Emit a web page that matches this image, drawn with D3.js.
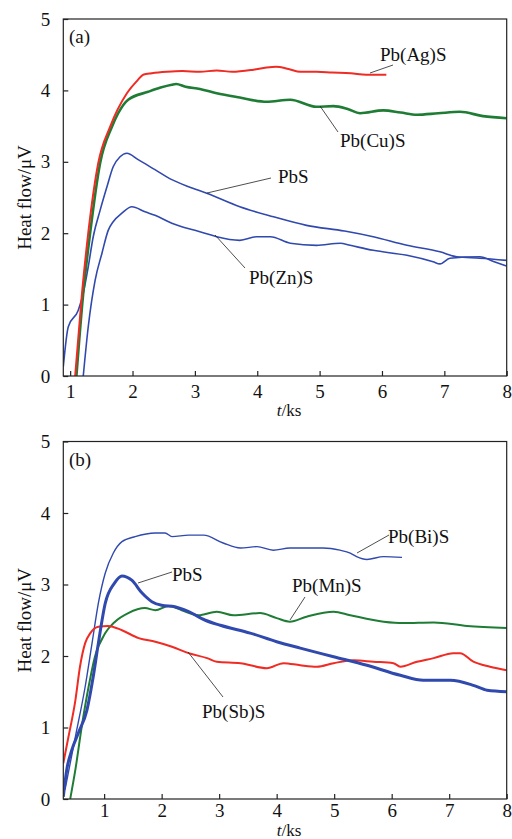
<!DOCTYPE html>
<html>
<head>
<meta charset="utf-8">
<script src="https://cdn.jsdelivr.net/npm/d3@7"></script>
<style>
  body { margin: 0; background: #fff; }
  svg text { font-family: "Liberation Serif", "Times New Roman", serif; fill: #111; }
</style>
</head>
<body>
<div id="chart"></div>
<script>
// ---- data: [t (ks), heat flow (uV)] ----
var yTicks = [0, 1, 2, 3, 4, 5];
var xTicks = [1, 2, 3, 4, 5, 6, 7, 8];

// panel (a)
var agA = [[1.08,0],[1.19,1.16],[1.29,2.0],[1.45,2.98],[1.64,3.49],[1.91,3.96],[2.09,4.15],[2.17,4.22],[2.31,4.24],
  [2.55,4.26],[2.8,4.27],[3.08,4.26],[3.35,4.28],[3.6,4.26],[3.94,4.29],[4.15,4.32],[4.3,4.33],[4.5,4.3],
  [4.69,4.26],[4.95,4.26],[5.2,4.25],[5.5,4.24],[5.75,4.22],[6.07,4.22]];
var cuA = [[1.1,0],[1.21,1.16],[1.32,2.0],[1.48,2.98],[1.67,3.49],[1.77,3.68],[1.93,3.87],[2.25,3.98],[2.45,4.04],
  [2.63,4.08],[2.7,4.09],[2.85,4.05],[3.08,4.02],[3.35,3.96],[3.72,3.9],[4.15,3.84],[4.53,3.87],[4.95,3.77],
  [5.22,3.78],[5.45,3.74],[5.65,3.68],[6.02,3.72],[6.3,3.69],[6.56,3.66],[6.9,3.68],[7.25,3.7],[7.62,3.64],[8,3.61]];
var pbsA = [[0.89,0.13],[0.97,0.69],[1.13,0.92],[1.21,1.16],[1.29,1.53],[1.37,1.95],[1.48,2.32],[1.59,2.65],
  [1.69,2.93],[1.8,3.07],[1.91,3.12],[2.09,3.03],[2.36,2.89],[2.63,2.75],[2.9,2.65],[3.19,2.56],[3.72,2.37],
  [4.26,2.23],[4.79,2.11],[5.4,2.03],[5.86,1.95],[6.4,1.83],[6.93,1.74],[7.2,1.67],[7.57,1.65],[8,1.62]];
var znA = [[1.21,0],[1.29,0.69],[1.4,1.34],[1.51,1.72],[1.61,2.04],[1.69,2.16],[1.83,2.28],[1.99,2.37],[2.2,2.3],
  [2.36,2.25],[2.63,2.14],[2.79,2.09],[3.0,2.04],[3.16,2.0],[3.35,1.95],[3.72,1.9],[3.99,1.95],[4.21,1.95],
  [4.53,1.86],[4.95,1.83],[5.33,1.86],[5.49,1.83],[5.86,1.76],[6.4,1.69],[6.82,1.6],[6.93,1.57],[7.09,1.65],
  [7.57,1.67],[7.8,1.6],[8,1.54]];

// panel (b)
var biB = [[0.32,0.13],[0.5,0.87],[0.67,1.57],[0.79,2.18],[0.9,2.74],[1.02,3.16],[1.16,3.44],[1.31,3.6],[1.54,3.67],
  [1.89,3.72],[2.06,3.72],[2.18,3.67],[2.47,3.69],[2.73,3.69],[3.07,3.58],[3.37,3.51],[3.66,3.53],[3.94,3.48],
  [4.23,3.51],[4.52,3.51],[4.81,3.51],[5.1,3.48],[5.28,3.44],[5.39,3.39],[5.57,3.35],[5.86,3.39],[6.18,3.38]];
var pbsB = [[0.29,0.03],[0.35,0.41],[0.44,0.69],[0.55,0.92],[0.7,1.24],[0.81,1.71],[0.9,2.18],[1.02,2.74],
  [1.18,3.02],[1.31,3.12],[1.48,3.06],[1.66,2.88],[1.83,2.76],[2.0,2.71],[2.23,2.69],[2.47,2.62],[2.76,2.5],
  [3.02,2.43],[3.54,2.32],[4.0,2.2],[4.41,2.11],[4.99,1.99],[5.57,1.87],[6.15,1.73],[6.55,1.66],[7.02,1.66],
  [7.42,1.59],[7.66,1.52],[8,1.5]];
var mnB = [[0.41,0],[0.5,0.41],[0.61,1.01],[0.73,1.57],[0.84,1.99],[1.02,2.32],[1.19,2.48],[1.42,2.6],[1.71,2.67],
  [1.89,2.64],[2.12,2.7],[2.35,2.64],[2.64,2.57],[2.96,2.62],[3.25,2.57],[3.71,2.6],[4.0,2.53],[4.23,2.48],
  [4.52,2.55],[4.99,2.62],[5.28,2.57],[5.86,2.48],[6.2,2.46],[6.73,2.47],[7.31,2.42],[8,2.39]];
var sbB = [[0.29,0.5],[0.38,0.87],[0.5,1.38],[0.58,1.85],[0.67,2.18],[0.76,2.32],[0.9,2.41],[1.07,2.42],
  [1.31,2.36],[1.6,2.25],[1.89,2.2],[2.18,2.13],[2.47,2.04],[2.79,1.97],[2.96,1.92],[3.37,1.9],[3.83,1.83],
  [4.12,1.9],[4.41,1.87],[4.7,1.85],[4.99,1.9],[5.34,1.94],[5.68,1.92],[6.03,1.9],[6.15,1.85],[6.44,1.92],
  [6.73,1.97],[7.07,2.04],[7.19,2.04],[7.42,1.92],[7.71,1.85],[8,1.8]];

var red = "#ef2b24", green = "#1f7c34", blue = "#3049ae";
var serif = "'Liberation Serif', 'Times New Roman', serif";

var width = 512, height = 839;
var svg = d3.select("#chart").append("svg")
            .attr("width", width)
            .attr("height", height)
            .attr("font-family", serif);

var panels = [
  { id: "a", tag: "(a)", top: 19, bottom: 376, xmin: 0.89, titleDy: 40, pad: 9,
    series: [
      { data: znA, color: blue, w: 1.6 },
      { data: pbsA, color: blue, w: 1.6 },
      { data: cuA, color: green, w: 2.6 },
      { data: agA, color: red, w: 2.0 }
    ],
    labels: [
      { text: "Pb(Ag)S", x: 380, y: 61, line: [[370, 73], [393, 65]] },
      { text: "Pb(Cu)S", x: 340, y: 147, line: [[320, 106], [338, 132]] },
      { text: "PbS", x: 278, y: 183, line: [[207, 193], [271, 178]] },
      { text: "Pb(Zn)S", x: 249, y: 284, line: [[215, 235], [245, 268]] }
    ] },
  { id: "b", tag: "(b)", top: 441.5, bottom: 799, xmin: 0.29, titleDy: 37, pad: 5,
    series: [
      { data: biB, color: blue, w: 1.4 },
      { data: mnB, color: green, w: 2.0 },
      { data: sbB, color: red, w: 2.0 },
      { data: pbsB, color: blue, w: 3.0 }
    ],
    labels: [
      { text: "Pb(Bi)S", x: 388, y: 543, line: [[357, 553], [389, 535]] },
      { text: "PbS", x: 172, y: 581, line: [[138, 583], [172, 572]] },
      { text: "Pb(Mn)S", x: 292, y: 592, line: [[305, 597], [290, 620]] },
      { text: "Pb(Sb)S", x: 202, y: 718, line: [[188, 652], [223, 697]] }
    ] }
];

var left = 63.3, right = 506.7;

panels.forEach(function(p) {
  var x = d3.scaleLinear().domain([p.xmin, 8]).range([left, right]);
  var y = d3.scaleLinear().domain([0, 5]).range([p.bottom, p.top]);

  var g = svg.append("g");

  g.append("clipPath").attr("id", "clip-" + p.id)
    .append("rect")
    .attr("x", left).attr("y", p.top)
    .attr("width", right - left).attr("height", p.bottom - p.top);

  var line = d3.line()
               .x(d => x(d[0]))
               .y(d => y(d[1]))
               .curve(d3.curveMonotoneX);

  g.append("g").attr("clip-path", "url(#clip-" + p.id + ")")
    .selectAll("path")
    .data(p.series)
    .enter().append("path")
      .attr("d", d => line(d.data))
      .attr("fill", "none")
      .attr("stroke", d => d.color)
      .attr("stroke-width", d => d.w)
      .attr("stroke-linejoin", "round");

  // frame
  g.append("rect")
    .attr("x", left).attr("y", p.top)
    .attr("width", right - left).attr("height", p.bottom - p.top)
    .attr("fill", "none").attr("stroke", "#222").attr("stroke-width", 1.2);

  var xAxis = g.append("g")
    .attr("transform", "translate(0," + p.bottom + ")")
    .call(d3.axisBottom(x).tickValues(xTicks).tickFormat(d3.format("d"))
            .tickSizeInner(-5).tickSizeOuter(0).tickPadding(p.pad));
  var yAxis = g.append("g")
    .attr("transform", "translate(" + left + ",0)")
    .call(d3.axisLeft(y).tickValues(yTicks).tickFormat(d3.format("d"))
            .tickSizeInner(-5).tickSizeOuter(0).tickPadding(13));

  [xAxis, yAxis].forEach(function(ax) {
    ax.attr("font-family", serif).attr("font-size", 19);
    ax.select(".domain").remove();
    ax.selectAll(".tick line").attr("stroke", "#222").attr("stroke-width", 1.2);
    ax.selectAll(".tick text").attr("fill", "#111");
  });

  // axis titles
  var xt = g.append("text")
    .attr("x", 289).attr("y", p.bottom + p.titleDy)
    .attr("text-anchor", "middle").attr("font-size", 17);
  xt.append("tspan").attr("font-style", "italic").text("t");
  xt.append("tspan").text("/ks");

  g.append("text")
    .attr("transform", "translate(31," + ((p.top + p.bottom) / 2) + ") rotate(-90)")
    .attr("text-anchor", "middle").attr("font-size", 19)
    .text("Heat flow/\u03bcV");

  g.append("text")
    .attr("x", 69).attr("y", p.top + 24)
    .attr("font-size", 19)
    .text(p.tag);

  // curve labels with leader lines
  var lab = g.selectAll("g.label").data(p.labels).enter().append("g").attr("class", "label");
  lab.append("line")
    .attr("x1", d => d.line[0][0]).attr("y1", d => d.line[0][1])
    .attr("x2", d => d.line[1][0]).attr("y2", d => d.line[1][1])
    .attr("stroke", "#222").attr("stroke-width", 0.8);
  lab.append("text")
    .attr("x", d => d.x).attr("y", d => d.y)
    .attr("font-size", 19)
    .text(d => d.text);
});
</script>
</body>
</html>
